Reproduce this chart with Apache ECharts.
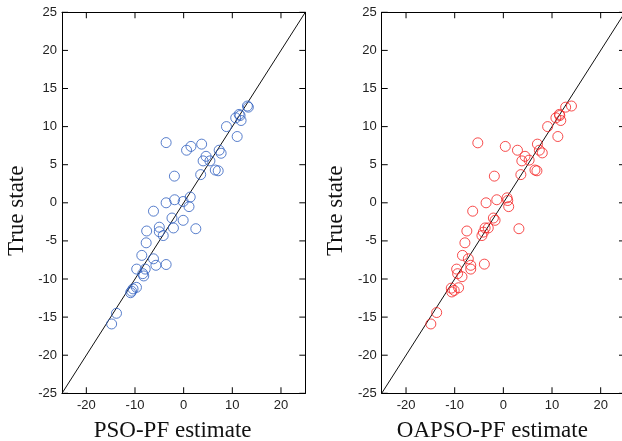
<!DOCTYPE html>
<html>
<head>
<meta charset="utf-8">
<script src="https://cdn.jsdelivr.net/npm/echarts@6/dist/echarts.min.js"></script>
<style>html,body{margin:0;padding:0;background:#fff;}#c{width:622px;height:441px;}</style>
</head>
<body>
<div id="c"></div>
<script>
const xTicks = [-20, -10, 0, 10, 20];
const yTicks = [-25, -20, -15, -10, -5, 0, 5, 10, 15, 20, 25];
const axisMin = -25;
const axisMax = 25;
const lineX = [-25, 25];
const lineY = [-25, 25];
const leftX = [-3.6,0.6,1.5,3.7,-1.9,3.5,4.6,4.0,5.4,7.3,7.7,6.5,7.1,8.8,10.7,11.4,11.6,11.8,11.0,13.1,13.3,-3.6,-1.85,-0.1,1.35,1.1,-6.2,-2.4,-0.1,2.5,-2.1,-5.0,-5.0,-4.2,-7.6,-7.7,-8.6,-6.2,-5.7,-3.6,-9.65,-7.9,-8.4,-8.2,-10.9,-10.7,-10.4,-9.7,-13.8,-14.8];
const leftY = [7.9,6.9,7.4,7.7,3.5,3.7,6.1,5.5,5.5,6.9,6.5,4.3,4.2,10.0,11.15,11.6,11.45,10.8,8.7,12.7,12.55,0,0.4,0.17,0.75,-0.5,-1.1,-2.0,-2.3,-3.4,-3.3,-3.2,-3.8,-4.3,-3.7,-5.25,-6.9,-7.35,-8.2,-8.1,-8.7,-8.7,-9.3,-9.6,-11.8,-11.6,-11.3,-11.1,-14.5,-15.9];
const rightX = [-5.25,0.4,2.9,7.0,4.45,3.8,5.3,7.4,8.0,6.5,6.9,3.6,-1.85,9.1,11.2,10.8,11.5,11.8,11.6,12.8,14.0,-3.55,-1.35,0.76,0.9,1.1,-6.3,-2.05,-1.7,3.2,-7.5,-3.75,-3.1,-4.1,-4.4,-7.9,-8.4,-7.2,-6.7,-6.7,-3.9,-9.6,-9.4,-8.5,-10.7,-10.6,-10.1,-9.2,-13.7,-14.9];
const rightY = [7.87,7.4,6.9,7.7,6.1,5.5,5.6,6.9,6.55,4.3,4.2,3.7,3.5,10.0,8.7,11.15,11.6,10.8,11.45,12.55,12.7,0,0.4,0.65,0.3,-0.5,-1.1,-2.0,-2.3,-3.4,-3.7,-3.3,-3.3,-3.85,-4.3,-5.25,-6.9,-7.35,-8.2,-8.7,-8.05,-8.7,-9.3,-9.7,-11.2,-11.7,-11.5,-11.15,-14.4,-15.9];

const zip = (a, b) => a.map((v, i) => [v, b[i]]);
const axisColor = '#000';
const labelFont = {fontFamily: 'Liberation Sans', fontSize: 13, color: '#222'};
const nameFont = {fontFamily: 'Liberation Serif', fontSize: 23, color: '#111'};
const TICK = 6;

function grids() {
  return [
    {left: 62, top: 12.3, width: 243.3, height: 381, containLabel: false, outerBoundsMode: 'none'},
    {left: 381.7, top: 12.3, width: 243.3, height: 381, containLabel: false, outerBoundsMode: 'none'}
  ];
}
function xAxes(gi, name) {
  return [
    {gridIndex: gi, type: 'value', min: axisMin, max: axisMax, position: 'bottom',
     name: name, nameLocation: 'middle', nameGap: 26,
     nameTextStyle: Object.assign({padding: [0, 22, 0, 0]}, nameFont),
     axisLine: {show: true, onZero: false, lineStyle: {color: axisColor, width: 1}},
     axisTick: {show: false},
     axisLabel: Object.assign({show: true, margin: 6, customValues: xTicks}, labelFont),
     splitLine: {show: false}},
    {gridIndex: gi, type: 'value', min: axisMin, max: axisMax, position: 'top',
     axisLine: {show: true, onZero: false, lineStyle: {color: axisColor, width: 1}},
     axisTick: {show: false},
     axisLabel: {show: false}, splitLine: {show: false}}
  ];
}
function yAxes(gi) {
  return [
    {gridIndex: gi, type: 'value', min: axisMin, max: axisMax, interval: 5, position: 'left',
     name: 'True state', nameLocation: 'middle', nameGap: 34,
     nameTextStyle: Object.assign({padding: [0, 16, 0, 0]}, nameFont),
     axisLine: {show: true, onZero: false, lineStyle: {color: axisColor, width: 1}},
     axisTick: {show: false},
     axisLabel: Object.assign({show: true, margin: 5}, labelFont),
     splitLine: {show: false}},
    {gridIndex: gi, type: 'value', min: axisMin, max: axisMax, interval: 5, position: 'right',
     axisLine: {show: true, onZero: false, lineStyle: {color: axisColor, width: 1}},
     axisTick: {show: false},
     axisLabel: {show: false}, splitLine: {show: false}}
  ];
}

// Inside tick marks on all four sides, drawn as thin rect symbols at the tick values.
function tickSeries(xi, yi) {
  const base = {type: 'scatter', xAxisIndex: xi, yAxisIndex: yi, symbol: 'rect', silent: true,
    clip: false, z: 3, itemStyle: {color: axisColor, opacity: 1}, emphasis: {disabled: true}};
  return [
    Object.assign({}, base, {data: xTicks.map(v => [v, axisMin]), symbolSize: [1, TICK], symbolOffset: [0, -TICK / 2]}),
    Object.assign({}, base, {data: xTicks.map(v => [v, axisMax]), symbolSize: [1, TICK], symbolOffset: [0, TICK / 2]}),
    Object.assign({}, base, {data: yTicks.map(v => [axisMin, v]), symbolSize: [TICK, 1], symbolOffset: [TICK / 2, 0]}),
    Object.assign({}, base, {data: yTicks.map(v => [axisMax, v]), symbolSize: [TICK, 1], symbolOffset: [-TICK / 2, 0]})
  ];
}

const chart = echarts.init(document.getElementById('c'), null, {renderer: 'canvas'});
chart.setOption({
  animation: false,
  backgroundColor: '#fff',
  grid: grids(),
  xAxis: [].concat(xAxes(0, 'PSO-PF estimate'), xAxes(1, 'OAPSO-PF estimate')),
  yAxis: [].concat(yAxes(0), yAxes(1)),
  series: [].concat(
    tickSeries(0, 0),
    tickSeries(2, 2),
    [
      {type: 'line', xAxisIndex: 0, yAxisIndex: 0, data: zip(lineX, lineY), symbol: 'none',
       lineStyle: {color: '#111', width: 1}, z: 1},
      {type: 'scatter', xAxisIndex: 0, yAxisIndex: 0, data: zip(leftX, leftY), symbol: 'circle', symbolSize: 10,
       itemStyle: {color: 'rgba(0,0,0,0)', borderColor: '#2F5FBF', borderWidth: 1}, z: 2},
      {type: 'line', xAxisIndex: 2, yAxisIndex: 2, data: zip(lineX, lineY), symbol: 'none',
       lineStyle: {color: '#111', width: 1}, z: 1},
      {type: 'scatter', xAxisIndex: 2, yAxisIndex: 2, data: zip(rightX, rightY), symbol: 'circle', symbolSize: 10,
       itemStyle: {color: 'rgba(0,0,0,0)', borderColor: '#F52020', borderWidth: 1}, z: 2}
    ]
  )
});
</script>
</body>
</html>
